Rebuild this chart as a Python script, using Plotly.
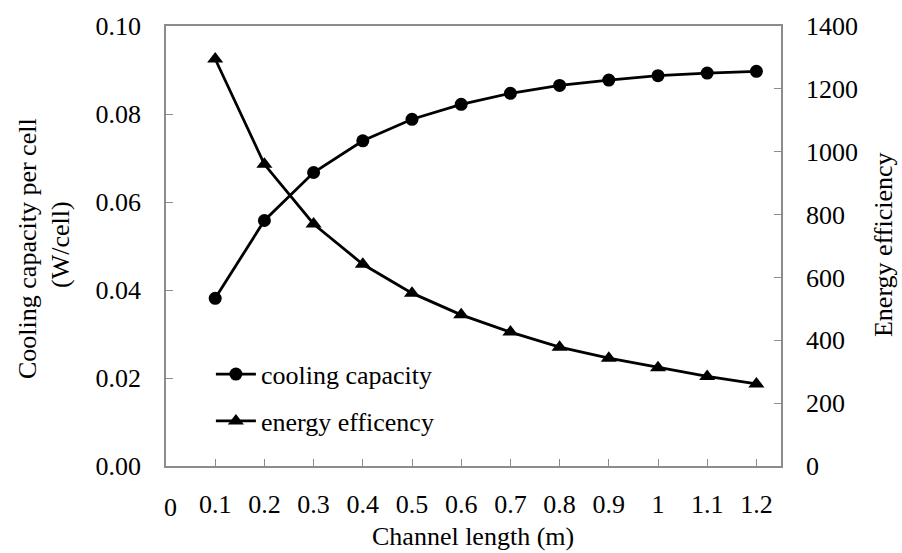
import plotly.graph_objects as go

channel_length = [0.1, 0.2, 0.3, 0.4, 0.5, 0.6, 0.7, 0.8, 0.9, 1.0, 1.1, 1.2]
tick_labels = ["0.1", "0.2", "0.3", "0.4", "0.5", "0.6", "0.7", "0.8", "0.9", "1", "1.1", "1.2"]
cooling_capacity = [0.0381, 0.0558, 0.0667, 0.0739, 0.0788, 0.0822, 0.0847, 0.0865, 0.0877, 0.0887, 0.0893, 0.0897]
energy_efficiency = [1295, 960, 770, 642, 550, 481, 426, 378, 343, 313, 285, 261]
left_ticks = [0, 0.02, 0.04, 0.06, 0.08, 0.10]
right_ticks = [0, 200, 400, 600, 800, 1000, 1200, 1400]

FONT = "Liberation Serif, Times New Roman, serif"
FS = 26
AX = "#8c8c8c"

fig = go.Figure()
fig.add_trace(go.Scatter(
    x=channel_length, y=cooling_capacity, name="cooling capacity",
    mode="lines+markers", legendgroup="a",
    line=dict(color="black", width=2.8),
    marker=dict(symbol="circle", size=13, color="black"),
    yaxis="y"))
fig.add_trace(go.Scatter(
    x=channel_length, y=energy_efficiency, name="energy efficency",
    mode="lines+markers", legendgroup="b",
    line=dict(color="black", width=2.8),
    marker=dict(symbol="triangle-up", size=14, color="black"),
    yaxis="y2"))

fig.update_layout(
    width=902, height=553,
    margin=dict(l=166, r=121, t=22, b=87),
    paper_bgcolor="white", plot_bgcolor="white",
    font=dict(family=FONT, size=FS, color="black"),
    showlegend=True,
    legend=dict(x=0.073, y=0.262, xanchor="left", yanchor="top",
                bgcolor="rgba(0,0,0,0)", font=dict(size=FS, family=FONT),
                traceorder="grouped", tracegroupgap=10, itemwidth=40),
    xaxis=dict(range=[0, 1.25], tickvals=channel_length, ticktext=tick_labels,
               showline=True, linecolor=AX, linewidth=1.5, mirror=True,
               ticks="inside", ticklen=7, tickcolor=AX, tickwidth=1.3,
               showgrid=False, zeroline=False, ticklabelstandoff=14,
               tickfont=dict(size=FS)),
    yaxis=dict(range=[0, 0.10], tickvals=left_ticks, tickformat=".2f",
               showline=True, linecolor=AX, linewidth=1.5,
               ticks="inside", ticklen=7, tickcolor=AX, tickwidth=1.3,
               showgrid=False, zeroline=False, ticklabelstandoff=18,
               tickfont=dict(size=FS)),
    yaxis2=dict(range=[0, 1400], tickvals=right_ticks, overlaying="y", side="right",
                showline=True, linecolor=AX, linewidth=1.5,
                ticks="inside", ticklen=7, tickcolor=AX, tickwidth=1.3,
                showgrid=False, zeroline=False, ticklabelstandoff=18,
                tickfont=dict(size=FS)),
    annotations=[
        dict(text="0", xref="paper", yref="paper", x=(170 - 166) / 615, y=(466 - 508) / 444,
             showarrow=False, xanchor="center", yanchor="middle", font=dict(size=FS)),
        dict(text="Channel length (m)", xref="paper", yref="paper", x=(473 - 166) / 615,
             y=(466 - 537) / 444, showarrow=False, xanchor="center", yanchor="middle",
             font=dict(size=FS)),
        dict(text="Cooling capacity per cell", xref="paper", yref="paper", x=(28 - 166) / 615,
             y=(466 - 247) / 444, textangle=-90, showarrow=False, xanchor="center",
             yanchor="middle", font=dict(size=FS)),
        dict(text="(W/cell)", xref="paper", yref="paper", x=(60 - 166) / 615,
             y=(466 - 243) / 444, textangle=-90, showarrow=False, xanchor="center",
             yanchor="middle", font=dict(size=FS)),
        dict(text="Energy efficiency", xref="paper", yref="paper", x=(883 - 166) / 615,
             y=(466 - 243) / 444, textangle=-90, showarrow=False, xanchor="center",
             yanchor="middle", font=dict(size=FS)),
    ],
)

fig.write_html("out.html", config={"displayModeBar": False},
               post_script="document.body.style.margin='0';document.body.style.padding='0';")
